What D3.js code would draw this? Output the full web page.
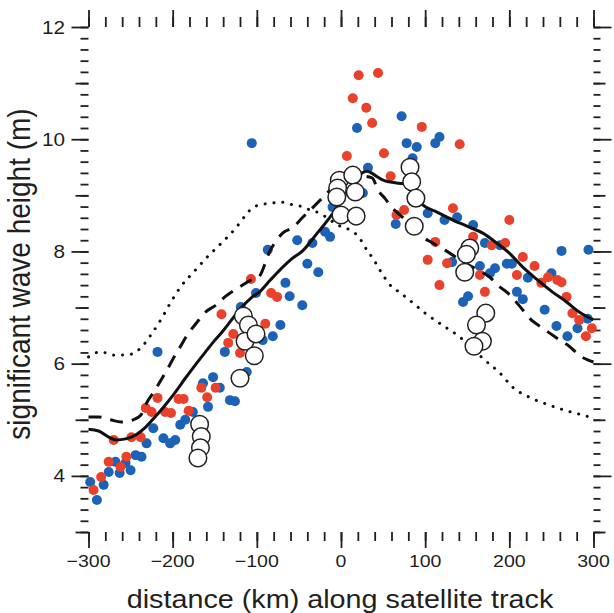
<!DOCTYPE html>
<html>
<head>
<meta charset="utf-8">
<script src="https://cdn.jsdelivr.net/npm/d3@7"></script>
<style>
  html, body { margin: 0; padding: 0; background: #fff; }
  svg { display: block; }
</style>
</head>
<body>
<div id="chart"></div>
<script>
"use strict";
// ---- data (km along track, significant wave height in m) ----
const blueKm = [-298, -290, -282, -276, -268, -263, -250, -256, -244, -237, -231, -223, -211, -203, -197, -191, -185, -176,
  -164, -152, -144, -158, -132, -126, -138, -218, -112, -101, -119, -106, 72, 19, 78, 90, 85, 32, 26, 65, -19, -13,
  -52, -34, -87, -10, -40, -27, -66, -61, -46, -72, -81, -93, 117, 112, 103, 123, 138, 157, 171, 189, 197, 203, 262,
  165, 183, 132, 250, 222, 145, 151, 177, 209, 216, 242, 256, 269, 281, 293, 294];
const blueH = [3.89, 3.57, 3.84, 4.07, 4.25, 4.05, 4.10, 4.23, 4.37, 4.34, 4.58, 4.85, 4.67, 4.58, 4.64, 4.91, 5.00, 5.14,
  5.65, 5.76, 5.57, 5.23, 5.35, 5.33, 6.21, 6.21, 5.85, 7.26, 7.01, 9.93, 10.41, 10.20, 9.93, 9.86, 9.66, 9.49, 9.04, 8.49, 8.35, 8.26,
  8.20, 8.15, 8.03, 8.79, 7.78, 7.63, 7.44, 7.20, 7.04, 6.69, 6.49, 6.42, 10.04, 9.93, 8.68, 8.56, 8.61, 8.47, 8.15, 8.11, 7.78, 7.78, 8.01,
  7.74, 7.70, 7.81, 7.61, 7.53, 7.10, 7.20, 7.61, 7.28, 7.15, 6.96, 6.67, 6.49, 6.63, 6.80, 8.03];

const redKm = [-294, -285, -276, -262, -255, -270, -249, -238, -232, -225, -218, -209, -202, -193, -187, -181, -166, -159,
  -149, -120, -134, -107, -142, -128, 21, 44, 14, 30, 37, 7, 51, 59, 75, 66, 96, -83, -76, -90, 141, 133, 200, 157, 112,
  103, 126, 179, 195, 216, 230, 209, 165, 246, 257, 117, 262, 238, 171, 268, 275, 283, 291, 298];
const redH = [3.75, 3.98, 4.25, 4.16, 4.34, 4.64, 4.69, 4.69, 5.21, 5.14, 5.39, 5.14, 5.12, 5.37, 5.37, 5.16, 5.57, 5.40,
  5.57, 6.19, 6.37, 7.51, 6.88, 6.53, 11.14, 11.18, 10.73, 10.56, 10.29, 9.70, 9.75, 9.34, 8.74, 8.65, 10.22, 7.26, 7.19, 6.71, 9.91, 8.77, 8.56, 8.26, 8.17,
  7.85, 7.79, 8.11, 8.15, 7.90, 7.74, 7.58, 7.58, 7.54, 7.49, 7.40, 7.45, 7.44, 7.28, 7.19, 6.90, 6.78, 6.49, 6.63];

const circleKm = [-168, -166, -167, -170, -116, -110, -114, -101, -103, -120, -2, -4, -5, 14, 17, 0, 18,
  82, 84, 89, 87, 153, 149, 147, 172, 161, 168, 158];
const circleH = [4.92, 4.70, 4.50, 4.32, 6.85, 6.69, 6.40, 6.53, 6.14, 5.74, 9.27, 9.13, 8.97, 9.36, 9.06, 8.65, 8.63,
  9.50, 9.24, 8.95, 8.45, 8.06, 7.95, 7.63, 6.90, 6.69, 6.40, 6.31];

const solidKm = [-300, -288, -276, -267, -256, -244, -232, -221, -209, -197, -185, -173, -161, -152, -142, -130, -119, -107,
  -96, -84, -60, -45, -28, -11, 5, 17, 25, 31, 43, 50, 66, 78, 97, 114, 133, 153, 168, 185, 200, 216, 232, 251, 268, 283, 300];
const solidH = [4.83, 4.80, 4.69, 4.64, 4.66, 4.73, 4.87, 5.05, 5.26, 5.49, 5.74, 5.98, 6.21, 6.38, 6.55, 6.78, 6.99, 7.17,
  7.29, 7.49, 7.85, 8.02, 8.33, 8.65, 9.01, 9.27, 9.40, 9.43, 9.33, 9.27, 9.22, 9.20, 8.83, 8.70, 8.56, 8.43, 8.33, 8.15, 7.97, 7.72,
  7.51, 7.28, 7.10, 6.92, 6.78];

const dashedKm = [-300, -288, -274, -261, -247, -238, -231, -221, -209, -197, -191, -181, -172, -161, -149, -138, -120, -107,
  -98, -84, -69, -57, -46, -33, -21, -7, 11, 25, 37, 44, 52, 60, 70, 84, 97, 109, 125, 141, 165, 177, 186, 198, 212, 226,
  238, 255, 272, 283, 300];
const dashedH = [5.05, 5.05, 5.00, 4.96, 5.00, 5.08, 5.30, 5.53, 5.83, 6.15, 6.30, 6.55, 6.72, 6.92, 7.04, 7.19, 7.37, 7.49,
  7.54, 8.02, 8.33, 8.43, 8.60, 8.79, 8.97, 9.18, 9.31, 9.34, 9.31, 9.09, 8.95, 8.79, 8.65, 8.47, 8.26, 8.15, 8.01, 7.85, 7.65, 7.54,
  7.40, 7.26, 7.03, 6.78, 6.65, 6.47, 6.30, 6.15, 6.03];

const dottedKm = [-300, -286, -268, -249, -238, -225, -213, -202, -190, -174, -159, -142, -126, -113, -106, -96, -83, -71,
  -60, -49, -37, -25, -13, -1, 11, 19, 26, 32, 38, 44, 50, 56, 66, 74, 84, 100, 120, 138, 147, 171, 189, 204, 224, 244,
  266, 288, 300];
const dottedH = [6.12, 6.21, 6.15, 6.17, 6.28, 6.53, 6.81, 7.10, 7.38, 7.65, 7.90, 8.15, 8.40, 8.65, 8.77, 8.83, 8.86, 8.88,
  8.84, 8.81, 8.74, 8.68, 8.56, 8.45, 8.38, 8.29, 8.15, 7.99, 7.88, 7.72, 7.58, 7.44, 7.31, 7.22, 7.10, 6.90, 6.69, 6.51, 6.40,
  6.06, 5.83, 5.58, 5.40, 5.28, 5.17, 5.08, 5.03];

const xMajor = [-300, -200, -100, 0, 100, 200, 300];
const xMinor = d3.range(-300, 301, 20);
const yMajor = [4, 6, 8, 10, 12];
const yMid = [3, 5, 7, 9, 11];
const yMinor = d3.range(15, 61).map(i => i / 5);

// ---- layout ----
const width = 614, height = 613;
const ink = "#231f20";
const blue = "#1c63b7";
const red = "#e9412b";
const font = "'Liberation Sans', Arial, Helvetica, sans-serif";
const sx = 1.15; // text in the figure is slightly widened

const svg = d3.select("#chart").append("svg")
    .attr("width", width)
    .attr("height", height);

const x = d3.scaleLinear().domain([-300, 300]).range([88.5, 593.5]);
const y = d3.scaleLinear().domain([3, 12]).range([532, 27]);

// ticks (no axis lines, only tick marks on all four sides)
function tickAxis(axis, values, size, tx, ty) {
    const g = svg.append("g")
        .attr("transform", "translate(" + tx + "," + ty + ")")
        .call(axis.tickValues(values).tickSize(size).tickFormat(""));
    g.select(".domain").remove();
    g.selectAll(".tick line").attr("stroke", ink).attr("stroke-width", 1.8);
}

tickAxis(d3.axisLeft(y), yMinor, 8, x(-300), 0);
tickAxis(d3.axisLeft(y), yMid, 13, x(-300), 0);
tickAxis(d3.axisLeft(y), yMajor, 17, x(-300), 0);
tickAxis(d3.axisRight(y), yMinor, 7, x(300), 0);
tickAxis(d3.axisRight(y), yMid, 12, x(300), 0);
tickAxis(d3.axisRight(y), yMajor, 18, x(300), 0);
tickAxis(d3.axisBottom(x), xMinor, 9, 0, y(3));
tickAxis(d3.axisBottom(x), xMajor, 16, 0, y(3));
tickAxis(d3.axisTop(x), xMinor, 10, 0, y(12));
tickAxis(d3.axisTop(x), xMajor, 17, 0, y(12));

// tick labels
const fmt = n => n < 0 ? "\u2212" + (-n) : String(n);
svg.append("g").selectAll("text")
    .data(xMajor)
    .enter()
    .append("text")
        .attr("transform", d => "translate(" + x(d) + ",567) scale(" + sx + ",1)")
        .attr("text-anchor", "middle")
        .attr("font-family", font)
        .attr("font-size", 17)
        .attr("fill", ink)
        .text(fmt);

svg.append("g").selectAll("text")
    .data(yMajor)
    .enter()
    .append("text")
        .attr("transform", d => "translate(65," + (y(d) + 6.5) + ") scale(" + sx + ",1)")
        .attr("text-anchor", "end")
        .attr("font-family", font)
        .attr("font-size", 18)
        .attr("fill", ink)
        .text(d => d);

// axis titles
svg.append("text")
    .attr("transform", "translate(340,608) scale(" + sx + ",1)")
    .attr("text-anchor", "middle")
    .attr("font-family", font)
    .attr("font-size", 25)
    .attr("fill", ink)
    .text("distance (km) along satellite track");

svg.append("text")
    .attr("transform", "translate(30,274) scale(" + sx + ",1) rotate(-90)")
    .attr("text-anchor", "middle")
    .attr("font-family", font)
    .attr("font-size", 28)
    .attr("fill", ink)
    .text("significant wave height (m)");

// dots
const plot = svg.append("g");
function dots(km, h, colour) {
    plot.append("g").selectAll("circle")
        .data(d3.zip(km, h))
        .enter()
        .append("circle")
            .attr("cx", d => x(d[0]))
            .attr("cy", d => y(d[1]))
            .attr("r", 5)
            .attr("fill", colour);
}
dots(blueKm, blueH, blue);
dots(redKm, redH, red);

// model curves
const line = d3.line()
    .x(d => x(d[0]))
    .y(d => y(d[1]))
    .curve(d3.curveMonotoneX);

plot.append("path")
    .datum(d3.zip(dottedKm, dottedH))
    .attr("d", line)
    .attr("fill", "none")
    .attr("stroke", "#111")
    .attr("stroke-width", 3)
    .attr("stroke-linecap", "round")
    .attr("stroke-dasharray", "0.1,8.8");

plot.append("path")
    .datum(d3.zip(dashedKm, dashedH))
    .attr("d", line)
    .attr("fill", "none")
    .attr("stroke", "#111")
    .attr("stroke-width", 3)
    .attr("stroke-dasharray", "13,9");

plot.append("path")
    .datum(d3.zip(solidKm, solidH))
    .attr("d", line)
    .attr("fill", "none")
    .attr("stroke", "#111")
    .attr("stroke-width", 3);

// open circles on top
plot.append("g").selectAll("circle")
    .data(d3.zip(circleKm, circleH))
    .enter()
    .append("circle")
        .attr("cx", d => x(d[0]))
        .attr("cy", d => y(d[1]))
        .attr("r", 8.8)
        .attr("fill", "#fff")
        .attr("stroke", "#222")
        .attr("stroke-width", 1.5);
</script>
</body>
</html>
